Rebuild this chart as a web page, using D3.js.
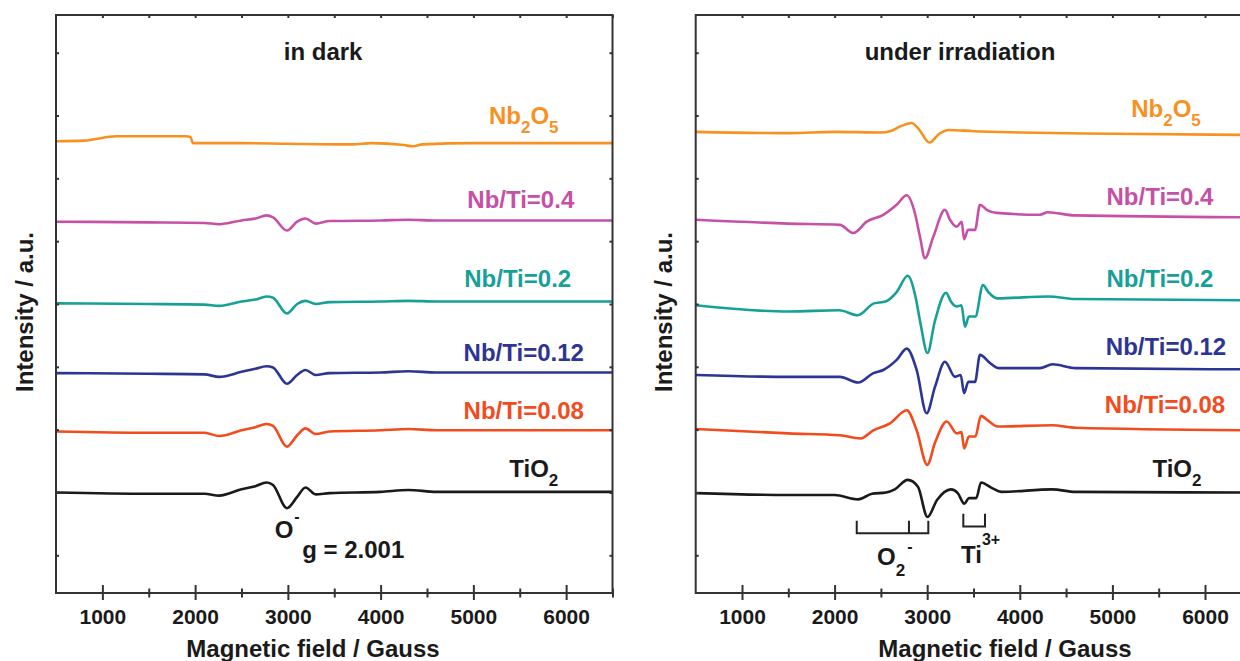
<!DOCTYPE html>
<html lang="en">
<head>
<meta charset="UTF-8">
<title>EPR spectra - dark / irradiation</title>
<script src="https://cdn.jsdelivr.net/npm/d3@7/dist/d3.min.js"></script>
<style>
    body { margin: 0; background: #fff; }
    svg text { font-family: "Liberation Sans", Arial, sans-serif; font-weight: bold; }
    .frame { fill: none; stroke: #333; stroke-width: 2; }
    .axis line { stroke: #333; stroke-width: 2; }
    .axis text { font-size: 21px; fill: #1a1a1a; }
    .trace { fill: none; stroke-width: 2.6; stroke-linejoin: round; }
    .mark { fill: none; stroke: #222; stroke-width: 2; }
</style>
</head>
<body>
<div id="chart"></div>
<script>

    /* global d3 */

    // ---- axes ----
    var fieldRange = [500, 6500];
    var fieldTicks = [1000, 2000, 3000, 4000, 5000, 6000];
    var minorTicks = [1500, 2500, 3500, 4500, 5500, 6500];
    var intensityRange = [-0.6, 8.6];
    var intensityTicks = [0, 1, 2, 3, 4, 5, 6, 7, 8];

    // ---- samples, bottom to top ----
    var sampleNames = ["TiO2", "Nb/Ti=0.08", "Nb/Ti=0.12", "Nb/Ti=0.2", "Nb/Ti=0.4", "Nb2O5"];
    var sampleColors = ["#1a1a1a", "#f24b1e", "#2c3593", "#17a097", "#c750a7", "#f7911f"];

    // ---- in dark ----
    var darkField = [500, 1500, 2100, 2260, 2500, 2650, 2770, 2840, 2990, 3100, 3190, 3300, 3450, 4000, 4300, 4600, 6500];
    var darkTiO2 = [1.00, 0.98, 0.98, 0.95, 1.05, 1.10, 1.16, 1.12, 0.75, 0.93, 1.08, 0.97, 0.99, 1.01, 1.04, 1.01, 1.01];
    var dark008 = [1.97, 1.95, 1.95, 1.90, 1.99, 2.04, 2.09, 2.06, 1.73, 1.91, 2.02, 1.93, 1.97, 1.99, 2.01, 1.99, 1.99];
    var dark012 = [2.90, 2.89, 2.88, 2.84, 2.92, 2.97, 3.01, 2.99, 2.73, 2.87, 2.95, 2.87, 2.90, 2.91, 2.93, 2.91, 2.91];
    var dark02 = [4.01, 4.00, 3.99, 3.97, 4.04, 4.07, 4.12, 4.10, 3.85, 4.00, 4.05, 4.00, 4.03, 4.04, 4.05, 4.04, 4.04];
    var dark04 = [5.31, 5.30, 5.29, 5.27, 5.33, 5.36, 5.41, 5.38, 5.17, 5.31, 5.36, 5.28, 5.32, 5.33, 5.34, 5.33, 5.33];
    var darkNb2O5Field = [500, 800, 1150, 1900, 1950, 1975, 2500, 3000, 3700, 3900, 4250, 4350, 4450, 5000, 6500];
    var darkNb2O5 = [6.59, 6.60, 6.67, 6.67, 6.66, 6.56, 6.56, 6.55, 6.54, 6.56, 6.53, 6.51, 6.54, 6.56, 6.56];

    // ---- under irradiation ----
    var irrTiO2Field = [500, 1500, 2000, 2254, 2404, 2555, 2650, 2790, 2900, 3003, 3106, 3257, 3330, 3402, 3450, 3530, 3581, 3700, 3800, 4350, 4600, 6500];
    var irrTiO2 = [0.99, 0.96, 0.96, 0.89, 0.98, 1.00, 1.05, 1.20, 1.09, 0.61, 0.88, 1.05, 0.99, 0.82, 0.91, 0.91, 1.16, 1.07, 1.01, 1.05, 1.01, 1.00];
    var irr008Field = [500, 1500, 2058, 2278, 2418, 2598, 2779, 2886, 3000, 3084, 3210, 3320, 3370, 3400, 3450, 3520, 3580, 3660, 3760, 4350, 4600, 6500];
    var irr008 = [2.01, 1.94, 1.91, 1.86, 1.99, 2.10, 2.31, 1.99, 1.44, 1.79, 2.13, 1.94, 1.96, 1.70, 1.89, 1.89, 2.22, 2.14, 2.05, 2.07, 2.03, 1.99];
    var irr012Field = [500, 1500, 2058, 2256, 2418, 2526, 2670, 2779, 2886, 2994, 3084, 3192, 3300, 3362, 3398, 3444, 3516, 3570, 3678, 3768, 4218, 4353, 4600, 6500];
    var irr012 = [2.87, 2.84, 2.84, 2.75, 2.90, 2.95, 3.11, 3.29, 2.95, 2.26, 2.68, 3.08, 2.84, 2.87, 2.58, 2.76, 2.76, 3.19, 3.06, 2.98, 2.98, 3.04, 2.98, 2.96];
    var irr02Field = [500, 1500, 2050, 2250, 2425, 2550, 2670, 2790, 2870, 2930, 3003, 3080, 3203, 3260, 3320, 3370, 3408, 3450, 3520, 3602, 3660, 3754, 4311, 4600, 6500];
    var irr02 = [3.98, 3.88, 3.90, 3.82, 4.01, 4.04, 4.19, 4.45, 4.14, 3.67, 3.22, 3.71, 4.18, 4.03, 3.96, 3.98, 3.64, 3.80, 3.80, 4.30, 4.19, 4.09, 4.12, 4.08, 4.06];
    var irr04Field = [500, 1500, 2058, 2202, 2347, 2526, 2670, 2779, 2868, 2922, 2976, 3066, 3192, 3246, 3318, 3373, 3398, 3441, 3516, 3570, 3642, 3751, 4218, 4300, 4600, 6500];
    var irr04 = [5.34, 5.28, 5.26, 5.13, 5.31, 5.42, 5.58, 5.73, 5.44, 5.07, 4.73, 5.07, 5.50, 5.34, 5.23, 5.31, 5.03, 5.18, 5.18, 5.58, 5.50, 5.45, 5.42, 5.46, 5.41, 5.38];
    var irrNb2O5Field = [500, 1500, 2000, 2500, 2600, 2700, 2833, 2900, 3025, 3130, 3235, 3500, 4000, 5000, 6500];
    var irrNb2O5 = [6.74, 6.72, 6.74, 6.73, 6.75, 6.82, 6.88, 6.80, 6.57, 6.71, 6.77, 6.75, 6.73, 6.71, 6.69];

    // bracket positions (Gauss)
    var o2Marks = [2239, 2803, 3012];
    var ti3Marks = [3390, 3624];

    var width = 1240;
    var height = 661;

    var svg = d3.select("#chart").append("svg")
        .attr("width", width)
        .attr("height", height);

    var y = d3.scaleLinear().domain(intensityRange).range([593, 15]);

    var panels = [
        {
            title: "in dark",
            range: [56, 612.5],
            titleField: 3380,
            axisTitleX: 313,
            yTitleX: 33,
            traces: [
                [darkField, darkTiO2], [darkField, dark008], [darkField, dark012],
                [darkField, dark02], [darkField, dark04], [darkNb2O5Field, darkNb2O5]
            ],
            labelAt: [[5651, 1.25], [5543, 2.17], [5543, 3.09], [5478, 4.27], [5511, 5.53], [5543, 6.86]]
        },
        {
            title: "under irradiation",
            range: [695.7, 1251.3],
            titleField: 3354,
            axisTitleX: 1005,
            yTitleX: 672,
            traces: [
                [irrTiO2Field, irrTiO2], [irr008Field, irr008], [irr012Field, irr012],
                [irr02Field, irr02], [irr04Field, irr04], [irrNb2O5Field, irrNb2O5]
            ],
            labelAt: [[5697, 1.25], [5568, 2.26], [5579, 3.19], [5514, 4.27], [5514, 5.58], [5579, 6.98]]
        }
    ];

    function toPoints(fields, values) {
        return fields.map(function (f, i) { return [f, values[i]]; });
    }

    // chemical formulas get subscripted digits, ratios stay plain
    function writeName(sel, name) {
        if (name.indexOf("=") >= 0) {
            sel.text(name);
            return;
        }
        var parts = name.split(/(\d+)/).filter(function (s) { return s.length; });
        var down = false;
        parts.forEach(function (s) {
            var isSub = /^\d+$/.test(s);
            var t = sel.append("tspan").text(s);
            if (isSub) {
                t.attr("font-size", 17).attr("dy", 9);
                down = true;
            } else if (down) {
                t.attr("dy", -9);
                down = false;
            }
        });
    }

    function noDomain(g) { g.select(".domain").remove(); }

    function drawPanel(p) {
        var x = d3.scaleLinear().domain(fieldRange).range(p.range);
        var g = svg.append("g");
        var bottom = y.range()[0], top = y.range()[1];

        var line = d3.line()
            .x(function (d) { return x(d[0]); })
            .y(function (d) { return y(d[1]); })
            .curve(d3.curveMonotoneX);

        g.selectAll("path.trace")
            .data(p.traces)
            .enter().append("path")
            .attr("class", "trace")
            .attr("stroke", function (d, i) { return sampleColors[i]; })
            .attr("d", function (d) { return line(toPoints(d[0], d[1])); });

        // frame
        g.append("rect")
            .attr("class", "frame")
            .attr("x", p.range[0])
            .attr("y", top)
            .attr("width", p.range[1] - p.range[0])
            .attr("height", bottom - top);

        // bottom axis: labelled major ticks crossing the line, small minor ticks
        g.append("g").attr("class", "axis")
            .attr("transform", "translate(0," + bottom + ")")
            .call(d3.axisBottom(x).tickValues(fieldTicks).tickSize(7).tickPadding(9).tickFormat(d3.format("d")))
            .call(noDomain);
        g.append("g").attr("class", "axis")
            .attr("transform", "translate(0," + bottom + ")")
            .call(d3.axisTop(x).tickValues(fieldTicks).tickSize(8).tickFormat(""))
            .call(noDomain);
        g.append("g").attr("class", "axis")
            .attr("transform", "translate(0," + bottom + ")")
            .call(d3.axisBottom(x).tickValues(minorTicks).tickSize(4.5).tickFormat(""))
            .call(noDomain);
        g.append("g").attr("class", "axis")
            .attr("transform", "translate(0," + bottom + ")")
            .call(d3.axisTop(x).tickValues(minorTicks).tickSize(4.5).tickFormat(""))
            .call(noDomain);

        // inner ticks on top, left and right edges
        g.append("g").attr("class", "axis")
            .attr("transform", "translate(0," + top + ")")
            .call(d3.axisBottom(x).tickValues(fieldTicks.concat(minorTicks)).tickSize(3).tickFormat(""))
            .call(noDomain);
        g.append("g").attr("class", "axis")
            .attr("transform", "translate(" + p.range[0] + ",0)")
            .call(d3.axisRight(y).tickValues(intensityTicks).tickSize(3).tickFormat(""))
            .call(noDomain);
        g.append("g").attr("class", "axis")
            .attr("transform", "translate(" + p.range[1] + ",0)")
            .call(d3.axisLeft(y).tickValues(intensityTicks).tickSize(3).tickFormat(""))
            .call(noDomain);

        // titles
        g.append("text")
            .attr("x", x(p.titleField))
            .attr("y", y(7.88))
            .attr("text-anchor", "middle")
            .attr("font-size", 24)
            .attr("fill", "#1a1a1a")
            .text(p.title);

        g.append("text")
            .attr("x", p.axisTitleX)
            .attr("y", 657)
            .attr("text-anchor", "middle")
            .attr("font-size", 24)
            .attr("fill", "#1a1a1a")
            .text("Magnetic field / Gauss");

        g.append("text")
            .attr("transform", "translate(" + p.yTitleX + ",312) rotate(-90)")
            .attr("text-anchor", "middle")
            .attr("font-size", 24)
            .attr("fill", "#1a1a1a")
            .text("Intensity / a.u.");

        // sample labels
        sampleNames.forEach(function (name, i) {
            var t = g.append("text")
                .attr("x", x(p.labelAt[i][0]))
                .attr("y", y(p.labelAt[i][1]))
                .attr("text-anchor", "middle")
                .attr("font-size", 24)
                .attr("fill", sampleColors[i]);
            writeName(t, name);
        });

        return x;
    }

    var xDark = drawPanel(panels[0]);
    var xIrr = drawPanel(panels[1]);

    // O- signal in dark
    var oLabel = svg.append("text")
        .attr("x", xDark(2992))
        .attr("y", y(0.275))
        .attr("text-anchor", "middle")
        .attr("font-size", 24)
        .attr("fill", "#1a1a1a");
    oLabel.append("tspan").text("O");
    oLabel.append("tspan").attr("font-size", 16).attr("dy", -16).attr("dx", 1).text("-");

    svg.append("text")
        .attr("x", xDark(3154))
        .attr("y", y(-0.04))
        .attr("font-size", 24)
        .attr("fill", "#1a1a1a")
        .text("g = 2.001");

    // brackets under irradiation
    svg.append("path")
        .attr("class", "mark")
        .attr("d", "M" + xIrr(o2Marks[0]) + "," + y(0.55) + "V" + y(0.35) + "H" + xIrr(o2Marks[2]) + "V" + y(0.55)
            + "M" + xIrr(o2Marks[1]) + "," + y(0.35) + "V" + y(0.55));
    svg.append("path")
        .attr("class", "mark")
        .attr("d", "M" + xIrr(ti3Marks[0]) + "," + y(0.66) + "V" + y(0.46) + "H" + xIrr(ti3Marks[1]) + "V" + y(0.66));

    var o2 = svg.append("text")
        .attr("x", xIrr(2458))
        .attr("y", y(-0.15))
        .attr("font-size", 24)
        .attr("fill", "#1a1a1a");
    o2.append("tspan").text("O");
    o2.append("tspan").attr("font-size", 17).attr("dy", 11).text("2");
    o2.append("tspan").attr("font-size", 16).attr("dy", -24).attr("dx", 2).text("-");

    var ti = svg.append("text")
        .attr("x", xIrr(3365))
        .attr("y", y(-0.12))
        .attr("font-size", 24)
        .attr("fill", "#1a1a1a");
    ti.append("tspan").text("Ti");
    ti.append("tspan").attr("font-size", 16).attr("dy", -18).text("3+");

</script>
</body>
</html>
